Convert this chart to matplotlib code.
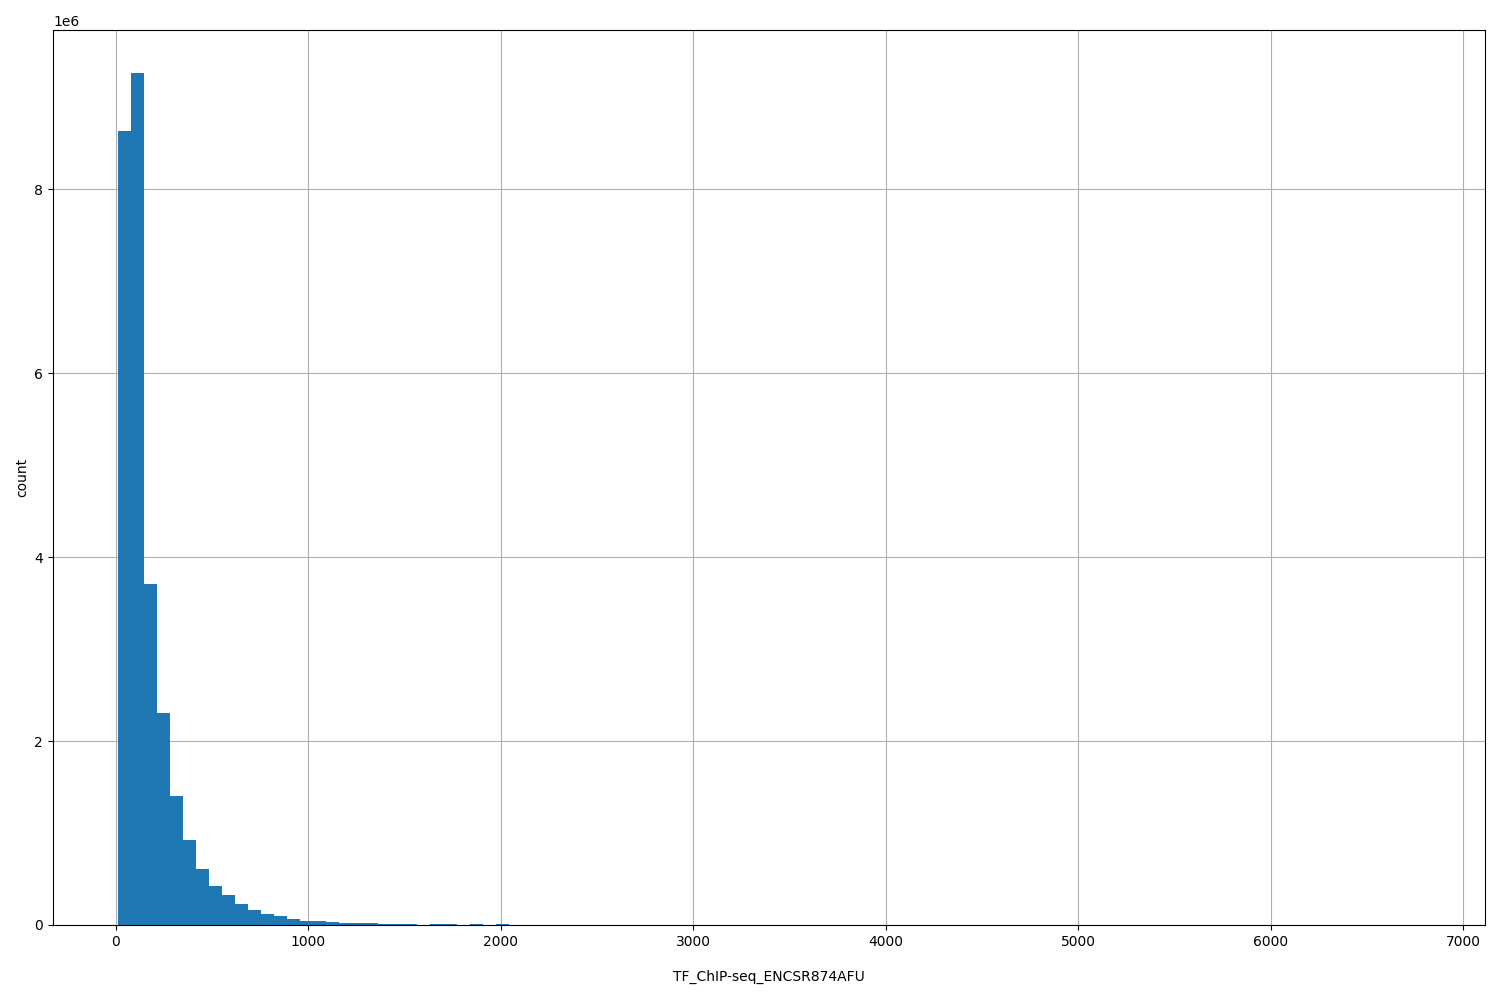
import matplotlib
matplotlib.use("Agg")
import matplotlib.pyplot as plt
import numpy as np

# histogram of signal values, 100 equal bins between the data min and max
data_min = 11.0
data_max = 6776.0
n_bins = 100

# counts (first 30 bins), the rest are ~0
head_counts = [8.64e6, 9.27e6, 3.71e6, 2.31e6, 1.40e6, 0.925e6, 0.61e6, 0.424e6,
               0.326e6, 0.228e6, 0.163e6, 0.12e6, 0.098e6, 0.065e6, 0.047e6,
               0.047e6, 0.033e6, 0.022e6, 0.022e6, 0.022e6, 0.012e6, 0.012e6,
               0.012e6, 0.0, 0.010e6, 0.010e6, 0.0, 0.008e6, 0.0, 0.008e6]
tail_counts = [0.0] * (n_bins - len(head_counts) - 1) + [1.0]
counts = np.array(head_counts + tail_counts)

edges = np.linspace(data_min, data_max, n_bins + 1)
centers = (edges[:-1] + edges[1:]) / 2

fig = plt.figure(figsize=(15, 10), dpi=100)
ax = fig.add_axes([0.0353, 0.075, 0.9547, 0.895])
ax.hist(centers, bins=edges, weights=counts, color="#1f77b4")
ax.grid(True)
ax.set_axisbelow(True)
ax.set_xlabel("TF_ChIP-seq_ENCSR874AFU", labelpad=15)
ax.set_ylabel("count")

fig.savefig("out.png")
